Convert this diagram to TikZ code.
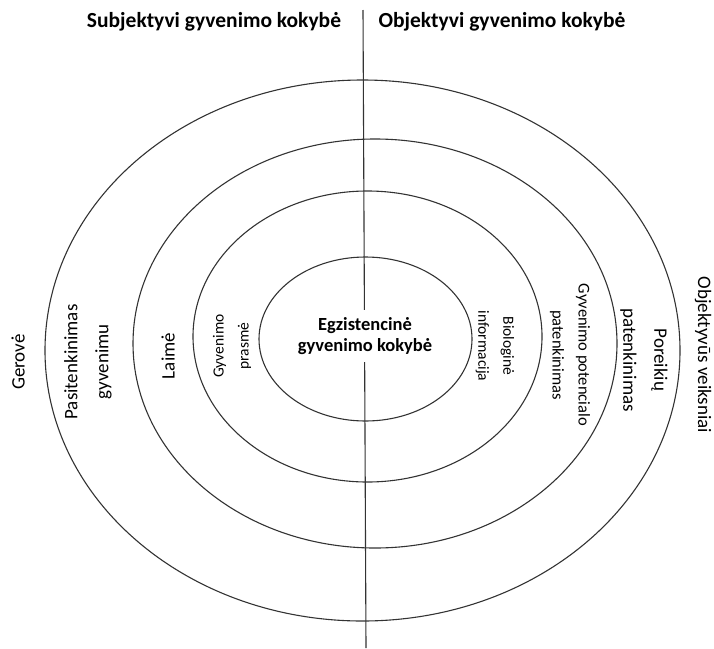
\documentclass[tikz,border=0pt]{standalone}
\usepackage{fontspec}
\setmainfont{Carlito}
\usetikzlibrary{positioning}

\begin{document}
\begin{tikzpicture}[x=1pt, y=-1pt,
  ring/.style={line width=1.1pt, draw=black!80},
  head/.style={font=\bfseries\fontsize{21.5}{24}\selectfont, inner sep=0pt},
  core/.style={font=\bfseries\fontsize{18.5}{21}\selectfont, align=center, inner xsep=2pt, inner ysep=7pt},
  big/.style={font=\fontsize{19}{31}\selectfont, align=center, inner sep=0pt},
  small/.style={font=\fontsize{15.5}{25}\selectfont, align=center, inner sep=0pt}]
  \useasboundingbox (0,0) rectangle (714,648);
  % rings, outer to inner
  \draw[ring] (362.5,350.5) ellipse [x radius=317.5, y radius=270.5];
  \draw[ring] (375,343.5) ellipse [x radius=242, y radius=204.5];
  \draw[ring] (367.5,336.5) ellipse [x radius=174.5, y radius=145.5];
  \draw[ring] (365.5,339) ellipse [x radius=106.5, y radius=82];
  % dividing line
  \coordinate (top) at (363,10);
  \coordinate (bot) at (366,648);
  \draw[ring] (top) -- (bot);
  \node[head] (subj) at (214,22) {Subjektyvi gyvenimo kokybė};
  \node[head] (obj) at (502,22) {Objektyvi gyvenimo kokybė};
  \node[core, fill=white] (egz) at (365,336) {Egzistencinė\\gyvenimo kokybė};
  % left half
  \node[big, rotate=90] (gerove) at (18,362) {Gerovė};
  \node[big, rotate=90] (pasit) at (88,362) {Pasitenkinimas\\gyvenimu};
  \node[big, rotate=90] (laime) at (168,356) {Laimė};
  \node[small, rotate=90] (prasme) at (232,346) {Gyvenimo\\prasmė};
  % right half
  \node[small, rotate=-90] (bio) at (495,346) {Biologinė\\informacija};
  \node[small, font=\fontsize{16.5}{26}\selectfont, rotate=-90] (potenc) at (570,355) {Gyvenimo potencialo\\patenkinimas};
  \node[big, rotate=-90] (poreik) at (644,360) {Poreikių\\patenkinimas};
  \node[big, rotate=-90] (veiksn) at (703,355) {Objektyvūs veiksniai};
\end{tikzpicture}
\end{document}
